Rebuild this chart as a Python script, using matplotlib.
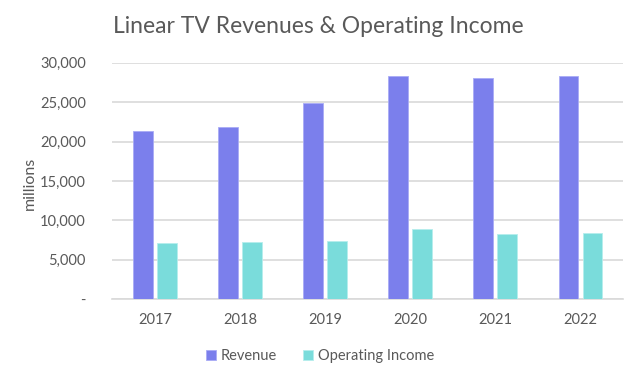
import numpy as np
import matplotlib
matplotlib.use('Agg')
import matplotlib.pyplot as plt
from matplotlib.ticker import FuncFormatter

plt.rcParams['font.family'] = ['Lato', 'DejaVu Sans']

# data (millions)
years = ['2017', '2018', '2019', '2020', '2021', '2022']
revenue = [21300, 21900, 24850, 28350, 28100, 28350]
operating_income = [7100, 7270, 7390, 8920, 8330, 8450]

rev_color = '#7B7FEC'
oi_color = '#7ADCDB'
text_color = '#595959'
grid_color = '#D9D9D9'

fig = plt.figure(figsize=(6.4, 3.8), dpi=100)
ax = fig.add_axes([0.1755, 0.2124, 0.7975, 0.6226])

x = np.arange(len(years))
w = 0.227
off = (w + 0.055) / 2
ax.bar(x - off, revenue, w, color=rev_color, edgecolor='#A9ACF5', linewidth=0.6,
       label='Revenue', zorder=3)
ax.bar(x + off, operating_income, w, color=oi_color, edgecolor='#B5EEEC', linewidth=0.6,
       label='Operating Income', zorder=3)

ax.set_xlim(-0.5, len(years) - 0.5)
ax.set_ylim(0, 30000)
ax.set_yticks(np.arange(0, 30001, 5000))
ax.yaxis.set_major_formatter(FuncFormatter(lambda v, p: '-' if v == 0 else f'{v:,.0f}'))
ax.set_xticks(x)
ax.set_xticklabels(years)

ax.grid(axis='y', color=grid_color, linewidth=1.2, zorder=0)
for s in ['top', 'right', 'left']:
    ax.spines[s].set_visible(False)
ax.spines['bottom'].set_color(grid_color)
ax.spines['bottom'].set_linewidth(1.2)
ax.tick_params(axis='both', length=0, colors=text_color, labelsize=10.5)
ax.tick_params(axis='y', pad=19)
ax.tick_params(axis='x', pad=10)

ax.set_ylabel('millions', color=text_color, fontsize=11.5, va='center')
ax.yaxis.set_label_coords(-0.161, 0.49)
fig.text(0.497, 0.93, 'Linear TV Revenues & Operating Income', ha='center', va='center',
         fontsize=16.5, color=text_color)

fig.legend(loc='center', bbox_to_anchor=(0.5, 0.063), ncol=2, frameon=False,
           fontsize=10.5, labelcolor=text_color, handlelength=0.7, handleheight=0.7,
           handletextpad=0.3, columnspacing=1.8)

fig.savefig('out.png', dpi=100)
